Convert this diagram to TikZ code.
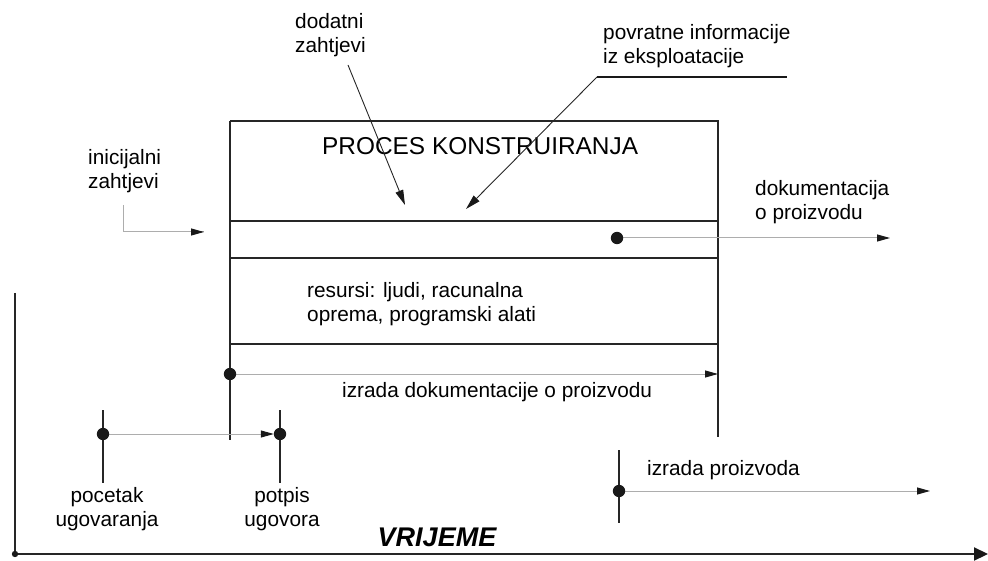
\documentclass[tikz,border=0pt]{standalone}
\usepackage{fontspec}
\setmainfont{Liberation Sans}
\usetikzlibrary{arrows.meta}
\begin{document}
\begin{tikzpicture}[x=1pt,y=-1pt,
 txt/.style={inner sep=0pt, font=\fontsize{20.8}{23.5}\selectfont, align=left},
 ctxt/.style={inner sep=0pt, font=\fontsize{20.8}{23.5}\selectfont, align=center},
 frame/.style={line width=2pt, draw=black!85},
 tickline/.style={line width=2.4pt, draw=black!85},
 grayarrow/.style={draw=black!32, line width=1pt, -{Triangle[length=13pt,width=7pt,color=black!90]}},
 grayline/.style={draw=black!32, line width=1pt},
 darkarrow/.style={draw=black!85, line width=0.9pt, -{Triangle[length=15pt,width=8pt,color=black!90]}},
 dotmark/.style={circle, inner sep=0pt, minimum size=12pt}
]
\useasboundingbox (0,0) rectangle (988,561);
% main box
\coordinate (bTL) at (230,121);
\coordinate (bTR) at (718,121);
\coordinate (bBL) at (230,344);
\coordinate (bBR) at (718,344);
\draw[frame] (bTL) -- (bTR) -- (718,437);
\draw[frame] (bTL) -- (230,440);
\draw[frame] (230,221) -- (718,221);
\draw[frame] (230,258) -- (718,258);
\draw[frame] (bBL) -- (bBR);
\node[inner sep=0pt, font=\fontsize{24.4}{28}\selectfont, anchor=west] (proces) at (322,146) {PROCES KONSTRUIRANJA};
\node[txt, anchor=west] (resursi) at (307,304) {resursi: ljudi, racunalna\\oprema, programski alati};
% inicijalni zahtjevi
\node[txt, anchor=west] (inic) at (88,171) {inicijalni\\zahtjevi};
\coordinate (ini0) at (123,205);
\coordinate (ini1) at (204,232);
\draw[grayline] (ini0) |- (ini1);
\draw[grayarrow] (180,232) -- (ini1);
% dodatni zahtjevi
\node[txt, anchor=west] (dod) at (295,35) {dodatni\\zahtjevi};
\coordinate (dod0) at (348,65);
\coordinate (dod1) at (405,205);
\draw[darkarrow] (dod0) -- (dod1);
% povratne informacije
\node[txt, anchor=west] (povr) at (603,46) {povratne informacije\\iz eksploatacije};
\coordinate (pov0) at (597,77);
\coordinate (pov1) at (787,77);
\coordinate (pov2) at (466,209);
\draw[line width=2.6pt, black!90] (pov0) -- (pov1);
\draw[darkarrow] (pov0) -- (pov2);
% dokumentacija o proizvodu
\node[txt, anchor=west] (dokum) at (755,202) {dokumentacija\\o proizvodu};
\node[dotmark] (dokdot) at (617,238) {};
\coordinate (dokend) at (890,238);
\draw[grayarrow] (dokdot.center) -- (dokend);
% izrada dokumentacije
\node[dotmark] (idDot) at (230,374) {};
\coordinate (idEnd) at (718,374);
\draw[grayarrow] (idDot.center) -- (idEnd);
\node[txt, anchor=west] (izdok) at (342,392) {izrada dokumentacije o proizvodu};
% pocetak ugovaranja / potpis ugovora
\draw[tickline] (103,410) -- (103,483);
\draw[tickline] (280,410) -- (280,483);
\node[dotmark] (pocDot) at (103,434) {};
\node[dotmark] (potDot) at (280,434) {};
\draw[grayarrow] (pocDot.center) -- (potDot.west);
\node[ctxt] (poc) at (107,509) {pocetak\\ugovaranja};
\node[ctxt] (pot) at (282,509) {potpis\\ugovora};
% izrada proizvoda
\draw[tickline] (619,450) -- (619,523);
\node[dotmark] (ipDot) at (619,491) {};
\coordinate (ipEnd) at (930,491);
\draw[grayarrow] (ipDot.center) -- (ipEnd);
\node[txt, anchor=west] (izpr) at (647,470) {izrada proizvoda};
% dots on top
\foreach \d in {dokdot,idDot,pocDot,potDot,ipDot}
  \fill[black!90] (\d.center) circle (6.2pt);
% time axis
\coordinate (ax0) at (15,293);
\coordinate (axO) at (15,554);
\coordinate (ax1) at (988,554);
\draw[line width=2.2pt, black!85, -{Triangle[length=14pt,width=13pt,color=black!90]}] (ax0) -- (axO) -- (ax1);
\fill[black!90] (axO) circle (3.2pt);
\node[inner sep=0pt, font=\fontsize{27}{31}\selectfont\bfseries\itshape] (vrij) at (437,537) {VRIJEME};
\end{tikzpicture}
\end{document}
